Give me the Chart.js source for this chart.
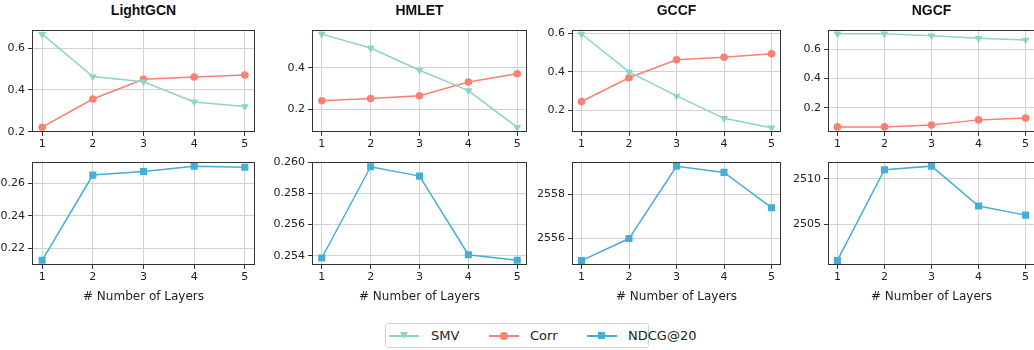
<!DOCTYPE html>
<html>
<head>
<meta charset="utf-8">
<script src="https://cdn.jsdelivr.net/npm/chart.js@4.4.1/dist/chart.umd.min.js"></script>
<style>
  html, body { margin: 0; padding: 0; background: #fff; }
  body { width: 1034px; height: 350px; position: relative; overflow: hidden; font-family: "DejaVu Sans", sans-serif; color: #222; }
  .panel { position: absolute; }
  .title { position: absolute; font-family: "Liberation Sans", Arial, sans-serif; font-weight: bold; font-size: 14px; text-align: center; top: 2px; color: #111; }
  .xlabel { position: absolute; font-size: 12px; text-align: center; top: 289px; }
  #legend { position: absolute; left: 385px; top: 323px; width: 264px; height: 25px; border: 1px solid #d4d4d4; border-radius: 3px; box-sizing: border-box; }
  .lg-line { position: absolute; top: 11px; width: 30px; height: 2px; }
  .lg-text { position: absolute; top: 4px; font-size: 13px; }
  .lg-mark { position: absolute; }
</style>
</head>
<body>
<div id="legend"></div>
<script>
// data
const layers = [1, 2, 3, 4, 5];
const models = ['LightGCN', 'HMLET', 'GCCF', 'NGCF'];

const smvLightGCN = [0.667, 0.464, 0.439, 0.343, 0.321];
const corrLightGCN = [0.222, 0.357, 0.451, 0.462, 0.472];
const ndcgLightGCN = [0.2127, 0.2651, 0.2673, 0.2705, 0.2699];

const smvHMLET = [0.565, 0.497, 0.389, 0.290, 0.111];
const corrHMLET = [0.240, 0.251, 0.265, 0.332, 0.372];
const ndcgHMLET = [0.25385, 0.2597, 0.2591, 0.25406, 0.2537];

const smvGCCF = [0.596, 0.400, 0.275, 0.159, 0.110];
const corrGCCF = [0.246, 0.369, 0.463, 0.476, 0.494];
const ndcgGCCF = [2555.0, 2556.0, 2559.28, 2559.0, 2557.4];

const smvNGCF = [0.707, 0.706, 0.693, 0.675, 0.664];
const corrNGCF = [0.069, 0.069, 0.082, 0.117, 0.129];
const ndcgNGCF = [2501.0, 2511.0, 2511.4, 2507.0, 2506.0];

const smvSeries = [smvLightGCN, smvHMLET, smvGCCF, smvNGCF];
const corrSeries = [corrLightGCN, corrHMLET, corrGCCF, corrNGCF];
const ndcgSeries = [ndcgLightGCN, ndcgHMLET, ndcgGCCF, ndcgNGCF];

// axis ranges / tick steps per panel
const topRanges = [[0.199, 0.689, 0.2, 1], [0.088, 0.587, 0.2, 1], [0.088, 0.619, 0.2, 1], [0.034, 0.735, 0.2, 1]];
const bottomRanges = [[0.2098, 0.2734, 0.02, 2], [0.2534, 0.26003, 0.002, 3], [2554.8, 2559.49, 2, 0], [2500.5, 2511.9, 5, 0]];

// layout in page pixels
const plotX = [[32, 255], [312, 527], [572, 781], [828, 1035]];
const topY = [28, 132];
const bottomY = [160, 265];

const COLORS = { smv: '#8dd3c7', corr: '#fa8072', ndcg: '#44afd5' };
const Y_W = 45, PAD_T = 8, PAD_R = 14, X_H = 22;

const frame = {
  id: 'frame',
  afterDatasetsDraw(chart) {
    const a = chart.chartArea;
    const ctx = chart.ctx;
    ctx.save();
    ctx.strokeStyle = '#333';
    ctx.lineWidth = 1;
    ctx.strokeRect(Math.round(a.left) + 0.5, Math.round(a.top) + 0.5,
      Math.round(a.right - a.left) - 1, Math.round(a.bottom - a.top) - 1);
    ctx.restore();
  }
};

function toPoints(values) {
  return values.map((v, i) => ({ x: layers[i], y: v }));
}

function lineSet(label, values, color, style, radius) {
  return {
    label: label,
    data: toPoints(values),
    borderColor: color,
    backgroundColor: color,
    borderWidth: 1.5,
    pointStyle: style,
    pointRadius: radius,
    pointHoverRadius: radius,
    pointRotation: style === 'triangle' ? 180 : 0,
    pointBorderWidth: 0,
    tension: 0
  };
}

function makePanel(x0, x1, y0, y1, datasets, range) {
  const wrap = document.createElement('div');
  wrap.className = 'panel';
  const w = (x1 - x0) + Y_W + PAD_R;
  const h = (y1 - y0) + PAD_T + X_H;
  wrap.style.left = (x0 - Y_W) + 'px';
  wrap.style.top = (y0 - PAD_T) + 'px';
  const canvas = document.createElement('canvas');
  canvas.width = w;
  canvas.height = h;
  canvas.style.width = w + 'px';
  canvas.style.height = h + 'px';
  wrap.appendChild(canvas);
  document.body.appendChild(wrap);

  const tickFont = { family: 'DejaVu Sans', size: 11 };
  const gridStyle = { color: '#d2d2d2', lineWidth: 1, tickColor: '#333', tickLength: 4 };

  new Chart(canvas.getContext('2d'), {
    type: 'line',
    data: { datasets: datasets },
    options: {
      responsive: false,
      animation: false,
      devicePixelRatio: 1,
      layout: { padding: { top: PAD_T, right: PAD_R, left: 0, bottom: 0 } },
      plugins: { legend: { display: false }, tooltip: { enabled: false } },
      scales: {
        x: {
          type: 'linear',
          min: 0.8,
          max: 5.2,
          afterFit: s => { s.height = X_H; },
          border: { display: false },
          grid: gridStyle,
          ticks: { stepSize: 1, includeBounds: false, color: '#222', font: tickFont, padding: 2, maxRotation: 0,
            callback: v => String(v) }
        },
        y: {
          min: range[0],
          max: range[1],
          afterFit: s => { s.width = Y_W; },
          border: { display: false },
          grid: gridStyle,
          ticks: { stepSize: range[2], includeBounds: false, color: '#222', font: tickFont, padding: 3,
            callback: v => Number(v).toFixed(range[3]) }
        }
      }
    },
    plugins: [frame]
  });
}

models.forEach((name, i) => {
  const [x0, x1] = plotX[i];
  makePanel(x0, x1, topY[0], topY[1], [
    lineSet('SMV', smvSeries[i], COLORS.smv, 'triangle', 4.6),
    lineSet('Corr', corrSeries[i], COLORS.corr, 'circle', 3.8)
  ], topRanges[i]);
  makePanel(x0, x1, bottomY[0], bottomY[1], [
    lineSet('NDCG@20', ndcgSeries[i], COLORS.ndcg, 'rect', 5)
  ], bottomRanges[i]);

  const t = document.createElement('div');
  t.className = 'title';
  t.textContent = name;
  t.style.left = x0 + 'px';
  t.style.width = (x1 - x0) + 'px';
  document.body.appendChild(t);

  const xl = document.createElement('div');
  xl.className = 'xlabel';
  xl.textContent = '# Number of Layers';
  xl.style.left = x0 + 'px';
  xl.style.width = (x1 - x0) + 'px';
  document.body.appendChild(xl);
});

// legend
const legendItems = [
  { label: 'SMV', color: COLORS.smv, mark: 'tri', lineX: 3, textX: 45 },
  { label: 'Corr', color: COLORS.corr, mark: 'circle', lineX: 103, textX: 144 },
  { label: 'NDCG@20', color: COLORS.ndcg, mark: 'square', lineX: 201, textX: 242 }
];
const legend = document.getElementById('legend');
legendItems.forEach(it => {
  const line = document.createElement('div');
  line.className = 'lg-line';
  line.style.left = it.lineX + 'px';
  line.style.background = it.color;
  legend.appendChild(line);
  const m = document.createElement('div');
  m.className = 'lg-mark';
  if (it.mark === 'tri') {
    m.style.left = (it.lineX + 11) + 'px';
    m.style.top = '8px';
    m.style.borderLeft = '4.5px solid transparent';
    m.style.borderRight = '4.5px solid transparent';
    m.style.borderTop = '7px solid ' + it.color;
  } else if (it.mark === 'circle') {
    m.style.left = (it.lineX + 11) + 'px';
    m.style.top = '8px';
    m.style.width = '8px';
    m.style.height = '8px';
    m.style.borderRadius = '50%';
    m.style.background = it.color;
  } else {
    m.style.left = (it.lineX + 11) + 'px';
    m.style.top = '8px';
    m.style.width = '7px';
    m.style.height = '7px';
    m.style.background = it.color;
  }
  legend.appendChild(m);
  const tx = document.createElement('div');
  tx.className = 'lg-text';
  tx.textContent = it.label;
  tx.style.left = it.textX + 'px';
  legend.appendChild(tx);
});
</script>
</body>
</html>
